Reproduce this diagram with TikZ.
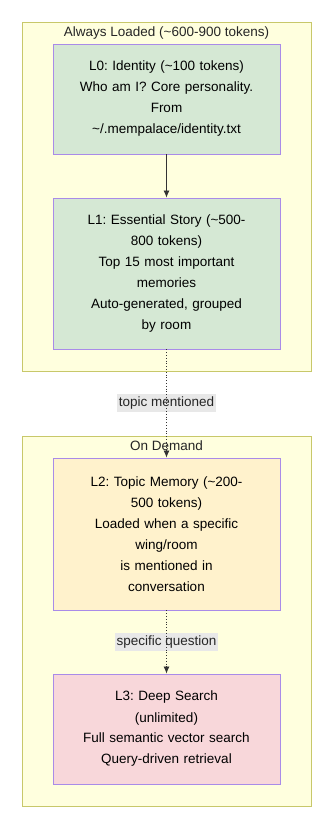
\documentclass[tikz,border=0pt]{standalone}
\usepackage{fontspec}
\setmainfont{Liberation Sans}
\usepackage{xcolor}
\usetikzlibrary{arrows.meta}
\definecolor{clfill}{HTML}{FFFFDE}
\definecolor{cldraw}{HTML}{C8C86A}
\definecolor{ndraw}{HTML}{A98BE8}
\definecolor{grnfill}{HTML}{D5E8D4}
\definecolor{ylwfill}{HTML}{FFF2CC}
\definecolor{pnkfill}{HTML}{F8D7DA}
\definecolor{lblfill}{HTML}{E8E8E8}
\definecolor{edgecol}{HTML}{333333}
\frenchspacing

\begin{document}
\begin{tikzpicture}[
  x=1pt,y=-1pt,
  font=\fontsize{13.5}{21}\selectfont,
  cluster/.style={draw=cldraw,fill=clfill,line width=0.9pt,inner sep=0pt},
  lvl/.style={draw=ndraw,line width=0.9pt,minimum width=227pt,text width=220pt,
              align=center,inner sep=0pt},
  ttl/.style={inner sep=0pt,text=black!85},
  elbl/.style={fill=lblfill,inner xsep=2pt,inner ysep=3pt,text=black!85},
  ln/.style={draw=edgecol,line width=0.8pt,-{Latex[length=7pt,width=6pt]}},
  dln/.style={ln,dotted}
]
\useasboundingbox (0,0) rectangle (330,823);
% clusters
\node[cluster,minimum width=288.5pt,minimum height=349pt] (always) at (166.75,196.5) {};
\node[cluster,minimum width=288.5pt,minimum height=370pt] (demand) at (166.75,621) {};
\node[ttl] (alwaysT) at (166.5,33) {Always Loaded (\textasciitilde600-900 tokens)};
\node[ttl] (demandT) at (166.5,446) {On Demand};

% levels
\node[lvl,fill=grnfill,minimum height=110pt] (lz) at (166.5,99)
  {L0: Identity (\textasciitilde100 tokens)\\Who am I? Core personality.\\From\\\textasciitilde/.mempalace/identity.txt};
\node[lvl,fill=grnfill,minimum height=151pt] (lone) at (166.5,273.5)
  {L1: Essential Story (\textasciitilde500-\\800 tokens)\\Top 15 most important\\memories\\Auto-generated, grouped\\by room};
\node[lvl,fill=ylwfill,minimum height=152pt] (ltwo) at (166.5,534)
  {L2: Topic Memory (\textasciitilde200-\\500 tokens)\\Loaded when a specific\\wing/room\\is mentioned in\\conversation};
\node[lvl,fill=pnkfill,minimum height=110pt] (lthree) at (166.5,729)
  {L3: Deep Search\\(unlimited)\\Full semantic vector search\\Query-driven retrieval};

% edge labels
\node[elbl] (topic) at (166.5,403) {topic mentioned};
\node[elbl] (quest) at (166.5,642) {specific question};

% connectors
\draw[ln] (lz) -- (lone);
\draw[dln] (lone) -- (ltwo);
\draw[dln] (ltwo) -- (lthree);
\end{tikzpicture}
\end{document}
